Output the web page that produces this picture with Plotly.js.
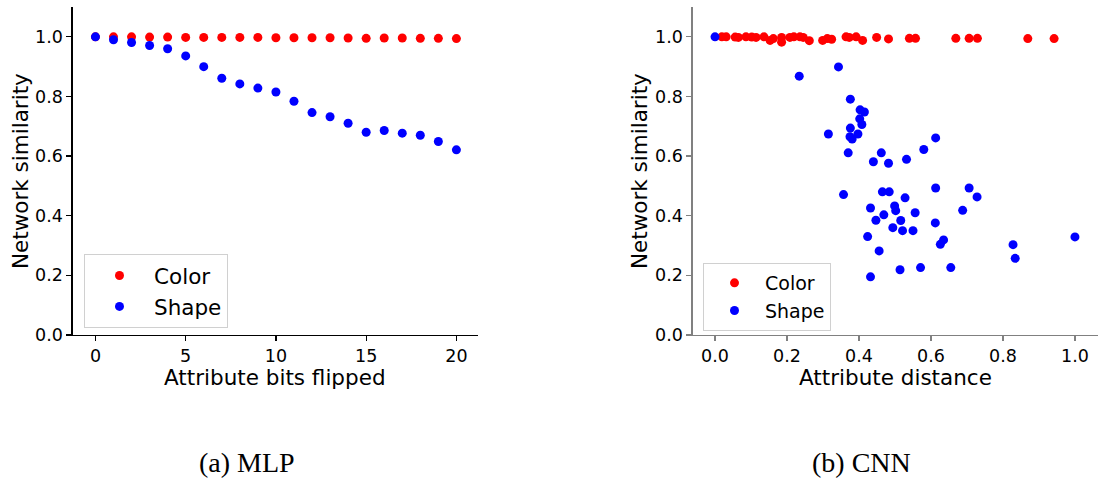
<!DOCTYPE html>
<html>
<head>
<meta charset="utf-8">
<script src="https://cdn.plot.ly/plotly-3.0.1.min.js"></script>
<style>html,body{margin:0;padding:0;background:#fff;}#chart{width:1098px;height:480px;}</style>
</head>
<body>
<div id="chart"></div>
<script>
// ---- MLP data ----
const mlpBits = [0,1,2,3,4,5,6,7,8,9,10,11,12,13,14,15,16,17,18,19,20];
const mlpColor = [1.0,1.0,1.0,0.999,0.999,0.998,0.998,0.998,0.998,0.998,0.997,0.997,0.997,0.997,0.996,0.995,0.996,0.996,0.995,0.995,0.994];
const mlpShape = [1.0,0.990,0.981,0.971,0.960,0.936,0.900,0.861,0.842,0.828,0.815,0.784,0.746,0.732,0.710,0.680,0.686,0.677,0.670,0.649,0.621];

// ---- CNN data ----
const cnnColorDist = [0.019,0.031,0.056,0.065,0.086,0.102,0.114,0.136,0.153,0.162,0.185,0.185,0.208,0.219,0.236,0.245,0.262,0.299,0.312,0.324,0.364,0.373,0.392,0.410,0.449,0.482,0.540,0.557,0.669,0.706,0.729,0.869,0.942];
const cnnColorSim  = [1.0,1.0,0.999,0.998,1.0,0.999,0.998,1.0,0.988,0.994,0.998,0.982,0.998,1.0,1.0,0.998,0.987,0.988,0.994,0.992,1.0,0.998,1.0,0.988,0.998,0.993,0.995,0.995,0.995,0.995,0.995,0.994,0.994];
const cnnShapeDist = [0.0,0.234,0.343,0.376,0.403,0.415,0.402,0.408,0.376,0.315,0.375,0.381,0.397,0.370,0.462,0.440,0.482,0.532,0.613,0.580,0.357,0.465,0.484,0.528,0.613,0.706,0.728,0.432,0.499,0.502,0.469,0.556,0.688,0.447,0.516,0.612,0.494,0.521,0.550,0.424,0.635,0.626,0.828,0.834,1.0,0.456,0.514,0.571,0.655,0.432];
const cnnShapeSim  = [1.0,0.868,0.899,0.791,0.755,0.748,0.725,0.706,0.694,0.674,0.665,0.657,0.674,0.611,0.611,0.581,0.576,0.589,0.661,0.622,0.471,0.480,0.480,0.460,0.493,0.493,0.463,0.426,0.433,0.417,0.403,0.410,0.418,0.385,0.384,0.376,0.360,0.350,0.350,0.330,0.319,0.304,0.303,0.257,0.329,0.282,0.219,0.226,0.226,0.195];

const seriesNames = ['Color','Shape'];
const W = 1098, H = 480;
const px = v => v / W;
const py = v => (H - v) / H;

const mk = (c) => ({color: c, size: 9, line: {width: 0}});
const traces = [
  {x: mlpBits, y: mlpColor, name: seriesNames[0], type: 'scatter', mode: 'markers', marker: mk('#ff0000'), xaxis: 'x', yaxis: 'y', legend: 'legend'},
  {x: mlpBits, y: mlpShape, name: seriesNames[1], type: 'scatter', mode: 'markers', marker: mk('#0000ff'), xaxis: 'x', yaxis: 'y', legend: 'legend'},
  {x: cnnColorDist, y: cnnColorSim, name: seriesNames[0], type: 'scatter', mode: 'markers', marker: mk('#ff0000'), xaxis: 'x2', yaxis: 'y2', legend: 'legend2'},
  {x: cnnShapeDist, y: cnnShapeSim, name: seriesNames[1], type: 'scatter', mode: 'markers', marker: mk('#0000ff'), xaxis: 'x2', yaxis: 'y2', legend: 'legend2'}
];

const tickFont = {family: 'DejaVu Sans', size: 17.5, color: '#000'};
const axBase = (lc) => ({showline: true, linecolor: lc, linewidth: 1.3, ticks: 'outside', ticklen: 5, tickwidth: 1.3, tickcolor: lc, showgrid: false, zeroline: false, tickfont: tickFont, fixedrange: true});

const ann = (text, x, y, size, family, angle) => ({text: text, x: px(x), y: py(y), xref: 'paper', yref: 'paper', xanchor: 'center', yanchor: 'middle', showarrow: false, textangle: angle || 0, font: {family: family, size: size, color: '#000'}});

const ydom = [py(335), py(7)];
const layout = {
  width: W, height: H,
  margin: {l: 0, r: 0, t: 0, b: 0},
  paper_bgcolor: '#fff', plot_bgcolor: '#fff',
  font: {family: 'DejaVu Sans', color: '#000'},
  xaxis: Object.assign(axBase('#000'), {domain: [px(72.7), px(477.7)], range: [-1.26, 21.18], tickvals: [0,5,10,15,20], anchor: 'y'}),
  yaxis: Object.assign(axBase('#000'), {domain: ydom, range: [0, 1.1], tick0: 0, dtick: 0.2, tickformat: '.1f', anchor: 'x'}),
  xaxis2: Object.assign(axBase('#808080'), {domain: [px(692.7), 1], range: [-0.062, 1.064], tick0: 0, dtick: 0.2, tickformat: '.1f', anchor: 'y2'}),
  yaxis2: Object.assign(axBase('#808080'), {domain: ydom, range: [0, 1.1], tick0: 0, dtick: 0.2, tickformat: '.1f', anchor: 'x2'}),
  legend: {x: px(84), y: py(254), xanchor: 'left', yanchor: 'top', bgcolor: '#fff', bordercolor: '#d0d0d0', borderwidth: 1, font: {family: 'DejaVu Sans', size: 21.5, color: '#000'}, itemwidth: 59, tracegroupgap: 0},
  legend2: {x: px(703), y: py(263), xanchor: 'left', yanchor: 'top', bgcolor: '#fff', bordercolor: '#d0d0d0', borderwidth: 1, font: {family: 'DejaVu Sans', size: 19, color: '#000'}, itemwidth: 51, tracegroupgap: 0},
  showlegend: true,
  annotations: [
    ann('Network similarity', 21, 171, 21.5, 'DejaVu Sans', -90),
    ann('Network similarity', 640, 171, 21.5, 'DejaVu Sans', -90),
    ann('Attribute bits flipped', 275, 377, 21.5, 'DejaVu Sans'),
    ann('Attribute distance', 895, 377, 21.5, 'DejaVu Sans'),
    ann('(a) MLP', 247, 462, 28, 'Liberation Serif'),
    ann('(b) CNN', 862, 462, 28, 'Liberation Serif')
  ]
};

Plotly.newPlot('chart', traces, layout, {displayModeBar: false, staticPlot: true});
</script>
</body>
</html>
